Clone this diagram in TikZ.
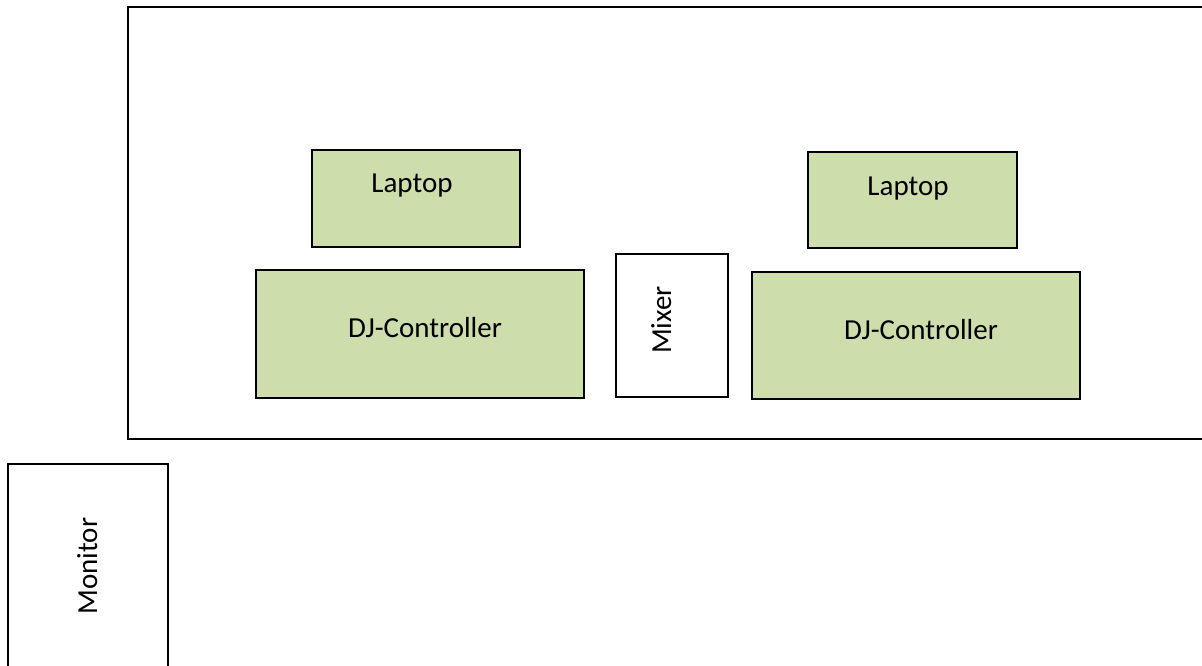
\documentclass[tikz,border=0pt]{standalone}
\usepackage{fontspec}
\setmainfont{Carlito}
\definecolor{boxgreen}{RGB}{205,221,172}
\begin{document}
\begin{tikzpicture}[x=1pt,y=-1pt,
  frame/.style={draw=black,line width=2pt},
  greenbox/.style={draw=black,line width=1.8pt,fill=boxgreen,inner sep=0pt,outer sep=0pt},
  whitebox/.style={draw=black,line width=1.8pt,fill=white,inner sep=0pt,outer sep=0pt},
  lbl/.style={font=\fontsize{29}{35}\selectfont,inner sep=0pt,anchor=base},
  vlbl/.style={lbl,rotate=90}]
\useasboundingbox (0,0) rectangle (1202,666);
\fill[white] (0,0) rectangle (1202,666);
% stage area (open at the right)
\draw[frame] (1202,7) -- (128,7) -- (128,439) -- (1202,439);
% monitor (open at the bottom)
\draw[frame] (8,666) -- (8,464) -- (168,464) -- (168,666);
\node[vlbl] (montxt) at (97,566) {Monitor};
% laptops
\node[greenbox,minimum width=208,minimum height=97] (lap1) at (416,198.5) {};
\node[lbl] (lap1t) at (412,193) {Laptop};
\node[greenbox,minimum width=209,minimum height=96] (lap2) at (912.5,200) {};
\node[lbl] (lap2t) at (908,195) {Laptop};
% controllers
\node[greenbox,minimum width=328,minimum height=128] (dj1) at (420,334) {};
\node[lbl] (dj1t) at (425,337) {DJ-Controller};
\node[greenbox,minimum width=328,minimum height=127] (dj2) at (916,335.5) {};
\node[lbl] (dj2t) at (921,339) {DJ-Controller};
% mixer
\node[whitebox,minimum width=112,minimum height=143] (mix) at (672,325.5) {};
\node[vlbl] (mixt) at (671,320) {Mixer};
\end{tikzpicture}
\end{document}
